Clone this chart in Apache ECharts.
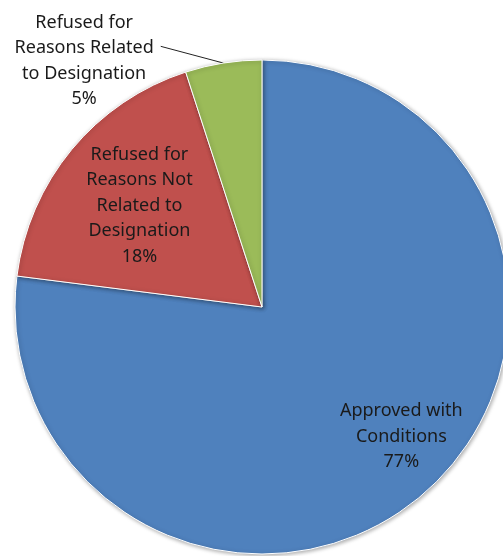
<!DOCTYPE html>
<html>
<head>
<meta charset="utf-8">
<script src="https://cdn.jsdelivr.net/npm/echarts@6/dist/echarts.min.js"></script>
<style>
  html, body { margin: 0; padding: 0; background: #fff; }
  #chart { width: 503px; height: 556px; }
</style>
</head>
<body>
<div id="chart"></div>
<script>
// data
const categories = [
  'Approved with Conditions',
  'Refused for Reasons Not Related to Designation',
  'Refused for Reasons Related to Designation'
];
const labelLines = [
  'Approved with\nConditions',
  'Refused for\nReasons Not\nRelated to\nDesignation',
  'Refused for\nReasons Related\nto Designation'
];
const values = [77, 18, 5];
const colors = ['#4F81BD', '#C0504D', '#9BBB59'];

// layout
const center = [262, 307];
const radius = 247;
const lineH = 25.5;
// inside labels: distance from centre (fraction of radius) and turn in degrees
const labelRadius = [0.77, 0.644, null];
const labelTurn = [-5.7, 0, 0];

let chart = echarts.init(document.getElementById('chart'));

let option = {
  animation: false,
  color: colors,
  series: [{
    type: 'pie',
    center: center,
    radius: radius,
    startAngle: 90,
    clockwise: true,
    data: categories.map((name, i) => ({
      name: name,
      value: values[i],
      label: { position: i === 2 ? 'outside' : 'inside' }
    })),
    itemStyle: {
      borderColor: '#fff',
      borderWidth: 1,
      shadowBlur: 4,
      shadowColor: 'rgba(0,0,0,0.35)',
      shadowOffsetX: 1,
      shadowOffsetY: 1
    },
    label: {
      formatter: p => labelLines[p.dataIndex] + '\n' + p.percent + '%',
      fontFamily: 'Noto Sans',
      fontSize: 18,
      lineHeight: lineH,
      color: '#1a1a1a',
      align: 'center'
    },
    labelLine: {
      length: 4,
      length2: 64,
      lineStyle: { color: '#222', width: 1 }
    },
    labelLayout: function (params) {
      const r = params.labelRect;
      const i = params.dataIndex;
      if (labelRadius[i] == null) {
        // outside label: keep lines centred, straight leader to 2nd line
        const dy = 2;
        const pts = params.labelLinePoints;
        const p0 = pts ? pts[0] : [r.x + r.width, r.y];
        const end = [r.x + r.width + 7, r.y + dy + lineH * 1.5 - 2];
        return {
          align: 'center',
          dx: -r.width / 2,
          dy: dy,
          labelLinePoints: [p0, [(p0[0] + end[0]) / 2, (p0[1] + end[1]) / 2], end]
        };
      }
      const cx = r.x + r.width / 2;
      const cy = r.y + r.height / 2;
      const vx = cx - center[0];
      const vy = cy - center[1];
      const a = Math.atan2(vy, vx) + labelTurn[i] * Math.PI / 180;
      const t = labelRadius[i] * radius;
      return { dx: Math.cos(a) * t - vx, dy: Math.sin(a) * t - vy };
    }
  }]
};

chart.setOption(option);
</script>
</body>
</html>
